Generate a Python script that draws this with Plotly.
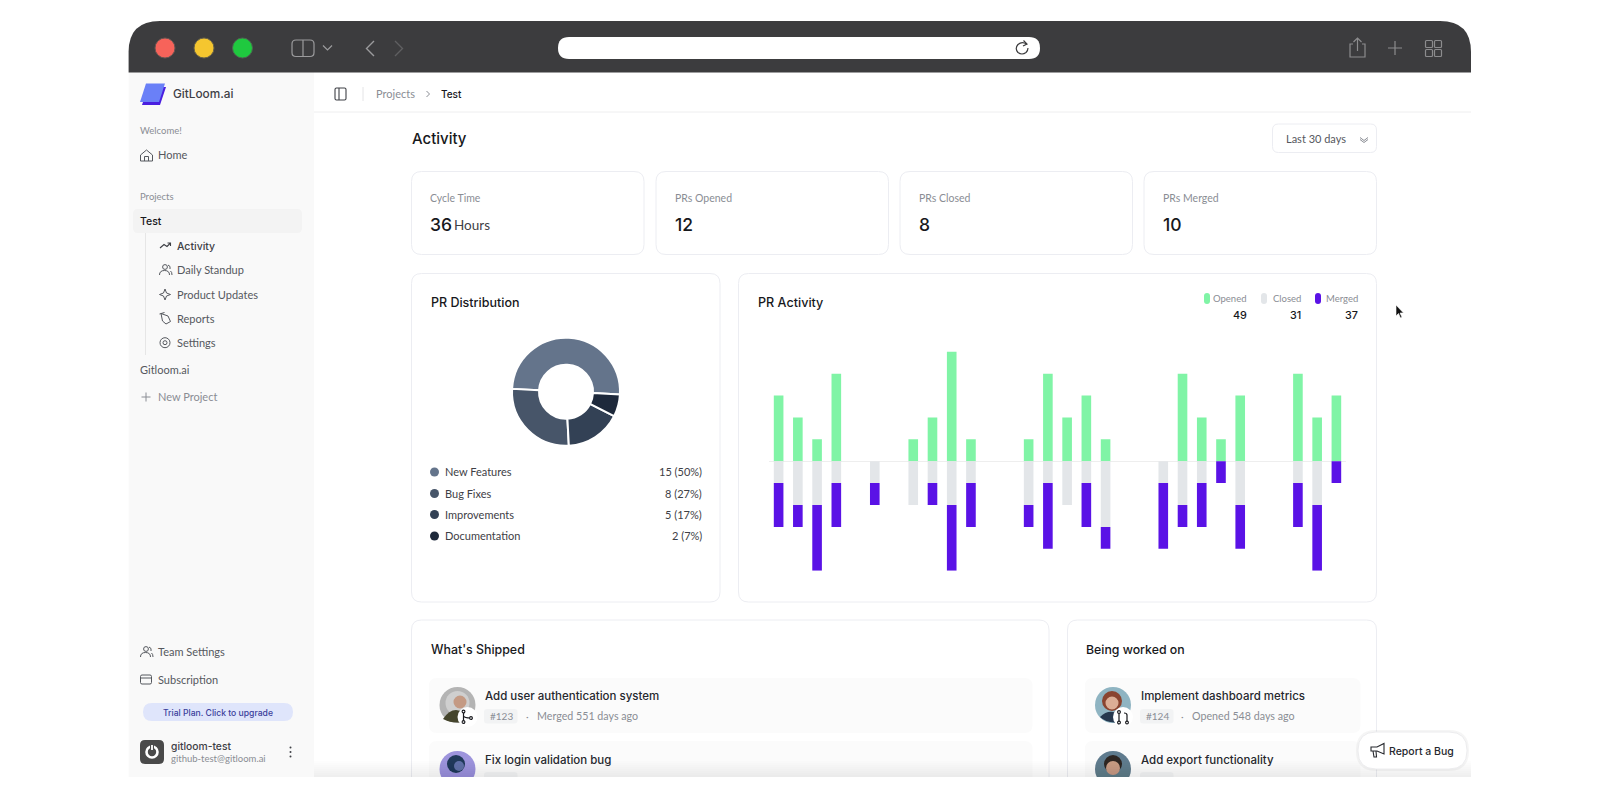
import plotly.graph_objects as go

# --- Data ---
DAYS = [str(d) for d in range(1, 31)]
OPENED = [3, 2, 1, 4, 0, 0, 0, 1, 2, 5, 1, 0, 0, 1, 4, 2, 3, 1, 0, 0, 0, 4, 2, 1, 3, 0, 0, 4, 2, 3]
CLOSED = [1, 2, 2, 1, 0, 1, 0, 2, 1, 2, 1, 0, 0, 2, 1, 2, 1, 3, 0, 0, 1, 2, 1, 0, 2, 0, 0, 1, 2, 0]
MERGED = [2, 1, 3, 2, 0, 1, 0, 0, 1, 3, 2, 0, 0, 1, 3, 0, 2, 1, 0, 0, 3, 1, 2, 1, 2, 0, 0, 2, 3, 1]

PR_TYPES = ["New Features", "Bug Fixes", "Improvements", "Documentation"]
PR_COUNTS = [15, 8, 5, 2]
PR_PCT = ["50%", "27%", "17%", "7%"]

STAT_LABELS = ["Cycle Time", "PRs Opened", "PRs Closed", "PRs Merged"]
STAT_VALUES = ["36", "12", "8", "10"]

# --- Styling ---
FONT = "Lato"
FONT_MEDIUM = "Inter"  # Lato has no 500 weight installed
DARK = "#17181c"
GREY = "#8a8d94"
MID = "#55585e"
BORDER = "#ecedf2"
SLATES = ["#64748b", "#475569", "#334155", "#1e293b"]
GREEN = "#80f4a6"
LIGHT = "#e3e6e9"
PURPLE = "#5a12e6"

shapes = []
notes = []


def rrect_path(x0, y0, x1, y1, r):
    return (f"M{x0+r},{y0} L{x1-r},{y0} Q{x1},{y0} {x1},{y0+r} L{x1},{y1-r} Q{x1},{y1} {x1-r},{y1} "
            f"L{x0+r},{y1} Q{x0},{y1} {x0},{y1-r} L{x0},{y0+r} Q{x0},{y0} {x0+r},{y0} Z")


def box(x0, y0, x1, y1, r=0, fill="white", line=None, width=1, opacity=1):
    shapes.append(dict(type="path", layer="below", path=rrect_path(x0, y0, x1, y1, r), fillcolor=fill, opacity=opacity,
                       line=dict(color=line or "rgba(0,0,0,0)", width=width if line else 0)))


def dot(cx, cy, r, fill, line=None, width=1):
    shapes.append(dict(type="circle", layer="below", x0=cx-r, x1=cx+r, y0=cy-r, y1=cy+r, fillcolor=fill,
                       line=dict(color=line or "rgba(0,0,0,0)", width=width if line else 0)))


def stroke(path, color, width=1.2, fill="rgba(0,0,0,0)"):
    shapes.append(dict(type="path", layer="below", path=path, fillcolor=fill, line=dict(color=color, width=width)))


def label(x, y, text, size=11, color=MID, anchor="left", weight=400):
    family = FONT_MEDIUM if weight >= 500 else FONT
    shift = 0 if weight >= 500 else -0.3
    notes.append(dict(x=x, y=y + shift, text=text, xanchor=anchor, yanchor="middle", showarrow=False,
                      xref="x", yref="y", borderpad=0,
                      font=dict(family=family, size=size, color=color, weight=weight)))


# --- Browser window ---
box(128.6, 72, 1471, 777, 0, "white")
box(128.6, 72, 314, 777, 0, "#f9f9f9")
stroke("M128.6,72.5 L128.6,52 Q128.6,21 160,21 L1440,21 Q1471,21 1471,52 L1471,72.5 Z", "#3c3c3e", 0, "#3c3c3e")
dot(165, 48, 10, "#f7635a", "#6a5552", 1)
dot(204, 48, 10, "#f5c62f", "#6a6348", 1)
dot(242.5, 48, 10, "#1fc93f", "#4c6650", 1)
box(292, 40, 314, 56.5, 4, "rgba(0,0,0,0)", "#9b9b9d", 1.2)
stroke("M303,40 L303,56.5", "#9b9b9d", 1.2)
stroke("M323,45.5 L327.5,50 L332,45.5", "#9b9b9d", 1.2)
stroke("M374,41 L366.5,48.5 L374,56", "#9b9b9d", 1.4)
stroke("M395,41 L402.5,48.5 L395,56", "#5f5f61", 1.4)
box(558, 37, 1040, 59, 11, "white")
stroke("M1026.5,44 Q1022,41 1018,44.5 Q1014.5,48.5 1018,52.5 Q1022,55.5 1026,52.5 Q1028,50.5 1028,48", "#3c3c3e", 1.2)
stroke("M1023.5,40.5 L1027,44 L1023,46", "#3c3c3e", 1.2)
stroke("M1353,44 L1350,44 L1350,57 L1365,57 L1365,44 L1362,44", "#8c8c8e", 1.2)
stroke("M1357.5,51 L1357.5,38 M1353.5,42 L1357.5,38 L1361.5,42", "#8c8c8e", 1.2)
stroke("M1395,41 L1395,55 M1388,48 L1402,48", "#8c8c8e", 1.2)
for bx, by in [(1425.5, 40.5), (1434.5, 40.5), (1425.5, 49.5), (1434.5, 49.5)]:
    box(bx, by, bx+7, by+7, 1, "rgba(0,0,0,0)", "#8c8c8e", 1.2)

# --- Sidebar ---
stroke("M148,87 L166,87 L160,105 L142,105 Z", "#4a1fe0", 0, "#4a1fe0")
stroke("M146,83.5 L165,83.5 L159,102 L140,102 Z", "#6a80f7", 0, "#6a80f7")
label(172, 94, "GitLoom.ai", 11.8, "#3e4046", weight=500)
label(139, 130.5, "Welcome!", 9.5, GREY)
stroke("M140.5,155 L146.5,150 L152.5,155 L152.5,161 L140.5,161 Z M144.5,161 L144.5,156.5 L148.5,156.5 L148.5,161", MID, 1)
label(157, 155, "Home", 11, MID)
label(139, 197, "Projects", 9.5, GREY)
box(133, 209, 302, 233, 5, "#f3f3f3")
label(139, 221.5, "Test", 10.5, DARK, weight=500)
stroke("M145.5,233 L145.5,355", "#e6e6e6", 1)
SIDE_ITEMS = ["Activity", "Daily Standup", "Product Updates", "Reports", "Settings"]
SIDE_Y = [246, 270, 294.3, 318.6, 342.7]
for name, y in zip(SIDE_ITEMS, SIDE_Y):
    if name == "Activity":
        label(176, y, name, 10.5, "#3e4046", weight=500)
    else:
        label(176, y, name, 11, MID)
stroke("M160,248 L164,244.5 L167,246.5 L170.5,243 M167.5,243 L170.5,243 L170.5,246", "#3e4046", 1.1)
dot(165, 267, 2.4, "rgba(0,0,0,0)", MID, 1)
stroke("M159.5,275 Q159.5,270.5 164.5,270.5 Q169.5,270.5 169.5,275 M168,265 Q171,266 170,269 M170.5,271 Q172,272 172,275", MID, 1)
stroke("M165,289 L166.5,293 L170.5,294.5 L166.5,296 L165,300 L163.5,296 L159.5,294.5 L163.5,293 Z", MID, 1)
stroke("M161,313.5 L168,316 L170.5,321.5 L166,324 L162.5,321 Z M159.5,314 L164.5,312.5", MID, 1)
dot(165, 342.7, 2, "rgba(0,0,0,0)", MID, 1)
dot(165, 342.7, 5, "rgba(0,0,0,0)", MID, 1)
label(139, 370, "Gitloom.ai", 11, MID)
stroke("M146,392.5 L146,401.5 M141.5,397 L150.5,397", GREY, 1)
label(157, 397, "New Project", 11, GREY)
dot(146, 649, 2.4, "rgba(0,0,0,0)", MID, 1)
stroke("M140.5,657 Q140.5,652.5 145.5,652.5 Q150.5,652.5 150.5,657 M149,647 Q152,648 151,651 M151.5,653 Q153,654 153,657", MID, 1)
label(156.5, 652, "Team Settings", 11, MID)
box(140.5, 675, 151.5, 684, 1.5, "rgba(0,0,0,0)", MID, 1)
stroke("M140.5,678 L151.5,678", MID, 1)
label(156.5, 680, "Subscription", 11, MID)
box(143, 703, 293, 721, 9, "#dfe5fb")
label(218, 712.5, "Trial Plan. Click to upgrade", 8.6, "#3b3f9b", "center", 500)
box(140, 740, 164, 764, 5, "#4a4a4a")
dot(152, 752, 5.5, "rgba(0,0,0,0)", "white", 2.6)
stroke("M152,744.5 L152,750", "#4a4a4a", 4)
stroke("M152,745 L152,750", "white", 1.8)
label(169.5, 746, "gitloom-test", 10.3, "#3e4046", weight=500)
label(169.5, 759, "github-test@gitloom.ai", 9.5, GREY)
for dy in [747.5, 752, 756.5]:
    dot(290.5, dy, 1, "#3e4046")

# --- Header and page title ---
stroke("M314,112 L1471,112", "#eeeeef", 1)
box(335, 88, 346, 100, 1.5, "rgba(0,0,0,0)", "#3e4046", 1.1)
stroke("M339,88 L339,100", "#3e4046", 1.1)
stroke("M363,87 L363,101", "#e4e4e6", 1)
label(375, 94, "Projects", 11, GREY)
stroke("M426.5,91 L429.5,94 L426.5,97", GREY, 1)
label(440, 94, "Test", 10, DARK, weight=500)
label(410.5, 138.5, "Activity", 15, DARK, weight=500)
box(1272.5, 124, 1376.5, 152.5, 6, "white", BORDER)
label(1284.5, 139, "Last 30 days", 11, MID)
stroke("M1360,137.5 L1364,140.5 L1368,137.5 M1360,139.5 L1364,142.5 L1368,139.5", GREY, 1)

# --- Stat cards ---
STAT_X = [411.5, 656, 900, 1144]
for x, name, val in zip(STAT_X, STAT_LABELS, STAT_VALUES):
    box(x, 171.5, x+232.5, 254.5, 10, "white", BORDER)
    label(x+17.5, 198, name, 10.5, GREY)
    label(x+17.5, 224, val, 17.5, DARK, weight=500)
label(453, 225.5, "Hours", 13.5, "#3e4046")

# --- PR Distribution card ---
box(411.5, 273.5, 720, 602, 10, "white", BORDER)
label(429.5, 302.5, "PR Distribution", 12.5, DARK, weight=500)
LEGEND_Y = [472, 493.5, 514.5, 536]
for name, count, pct, color, y in zip(PR_TYPES, PR_COUNTS, PR_PCT, SLATES, LEGEND_Y):
    dot(434.5, y, 4.5, color)
    label(444, y, name, 11, "#3e4046")
    label(702.5, y, f"{count} ({pct})", 11, "#3e4046", "right")

# --- PR Activity card ---
box(738.5, 273.5, 1376.5, 602, 10, "white", BORDER)
label(757, 302.5, "PR Activity", 12.6, DARK, weight=500)
LEG_NAMES = ["Opened", "Closed", "Merged"]
LEG_COLORS = [GREEN, LIGHT, PURPLE]
LEG_DOT_X = [1207, 1264, 1318]
LEG_RIGHT = [1248, 1302, 1359]
LEG_TOTALS = [sum(OPENED), sum(CLOSED), sum(MERGED)]
for name, color, dx, right, total in zip(LEG_NAMES, LEG_COLORS, LEG_DOT_X, LEG_RIGHT, LEG_TOTALS):
    box(dx-3, 293, dx+3, 304, 3, color)
    label(right, 298.5, name, 9.5, GREY, "right")
    label(right, 315, str(total), 10.8, DARK, "right", 500)

# --- Lower cards ---
box(411.5, 620, 1049, 800, 10, "white", BORDER)
box(1067.5, 620, 1376.5, 800, 10, "white", BORDER)
label(429.5, 649, "What's Shipped", 12.4, DARK, weight=500)
label(1085, 649, "Being worked on", 12.3, DARK, weight=500)
box(429, 678, 1032.5, 733, 8, "#fbfbfb")
box(429, 741, 1032.5, 800, 8, "#fbfbfb")
box(1085, 678, 1360.5, 733, 8, "#fbfbfb")
box(1085, 741, 1360.5, 800, 8, "#fbfbfb")

# avatars
dot(457.5, 705, 18, "#b4b4b4")
dot(457.5, 703, 12, "#cfcfcf")
dot(460, 702, 6.5, "#c49a84")
stroke("M443,719 Q449,710 456,710 L466,712 L464,722 Q452,724 443,719 Z", "#45452c", 0, "#45452c")
dot(457.5, 769, 18, "#9d94dc")
dot(456, 764, 9, "#20395a")
dot(459, 766, 5, "#5f6fa8")
dot(1113, 705, 18, "#8fb4c2")
dot(1112, 701, 10, "#8a4430")
dot(1112, 703, 6.5, "#dcae96")
stroke("M1100,717 Q1106,711 1113,712 L1122,714 L1120,722 Q1107,724 1100,717 Z", "#26384e", 0, "#26384e")
dot(1113, 769, 18, "#5f7b8e")
dot(1113, 764, 9, "#2e2622")
dot(1113, 768, 7, "#c79c84")

# badges on the avatars
dot(467.5, 717, 10, "white")
stroke("M463.5,712.5 L463.5,722 M463.5,716 Q464.5,718 470.5,718", DARK, 1.2)
dot(463.5, 711.5, 1.4, "white", DARK, 1.1)
dot(463.5, 722, 1.4, "white", DARK, 1.1)
dot(471, 718, 1.4, "white", DARK, 1.1)
dot(1123, 717, 10, "white")
stroke("M1119,713 L1119,721.5 M1127,721.5 L1127,715 Q1127,713 1124,713", DARK, 1.2)
dot(1119, 712, 1.4, "white", DARK, 1.1)
dot(1119, 722.5, 1.4, "white", DARK, 1.1)
dot(1127, 722.5, 1.4, "white", DARK, 1.1)

label(483.5, 696, "Add user authentication system", 11.5, "#26282e", weight=500)
box(484, 709, 517.5, 723.5, 3, "#f2f3f4")
label(501, 716, "#123", 10, GREY, "center")
label(527, 716, "·", 10, GREY, "center")
label(535.5, 716, "Merged 551 days ago", 10.7, GREY)
label(483.5, 759.5, "Fix login validation bug", 11.5, "#26282e", weight=500)
box(484, 772, 517.5, 790, 3, "#f2f3f4")

label(1139.5, 696, "Implement dashboard metrics", 11.5, "#26282e", weight=500)
box(1140, 709, 1173.5, 723.5, 3, "#f2f3f4")
label(1157, 716, "#124", 10, GREY, "center")
label(1182, 716, "·", 10, GREY, "center")
label(1190.5, 716, "Opened 548 days ago", 10.7, GREY)
label(1139.5, 759.5, "Add export functionality", 11.5, "#26282e", weight=500)
box(1140, 772, 1173.5, 790, 3, "#f2f3f4")

# fade at the bottom of the window, then cut everything off at its edge
for i in range(8):
    box(314, 761 + i*2, 1471, 777, 0, "#000000", opacity=0.008)
box(0, 777, 1600, 800, 0, "white")

# floating button and the mouse pointer
box(1356, 730, 1469, 771, 20, "#000000", opacity=0.04)
box(1358, 732, 1467, 769, 18, "white", "#ececee")
stroke("M1371,747 L1377,747 L1384,743.5 L1384,754 L1377,751 L1371,751 Z M1373,751 L1374,757 L1376.5,757 L1376,751", "#26282e", 1.1)
label(1387.5, 751, "Report a Bug", 10.5, "#26282e", weight=500)
stroke("M1396,305 L1396,316 L1398.5,313.5 L1400.5,318 L1402,317.2 L1400,313 L1403.5,313 Z", "white", 0.6, "#111111")

# --- Figure ---
fig = go.Figure()

fig.add_trace(go.Bar(x=DAYS, y=OPENED, name="Opened", marker_color=GREEN, marker_line_width=0,
                     xaxis="x2", yaxis="y2"))
fig.add_trace(go.Bar(x=DAYS, y=[-v for v in CLOSED], name="Closed", marker_color=LIGHT, marker_line_width=0,
                     xaxis="x2", yaxis="y2"))
fig.add_trace(go.Bar(x=DAYS, y=[-v for v in MERGED], name="Merged", marker_color=PURPLE, marker_line_width=0,
                     xaxis="x2", yaxis="y2"))

# with counterclockwise plotly keeps the first slice where clockwise would put it
fig.add_trace(go.Pie(labels=PR_TYPES, values=PR_COUNTS, hole=0.5, sort=False, direction="counterclockwise",
                     rotation=-87, textinfo="none", marker=dict(colors=SLATES, line=dict(color="white", width=2)),
                     domain=dict(x=[512/1600, 620/1600], y=[1-445.7/800, 1-337.7/800])))

fig.update_layout(
    width=1600,
    height=800,
    margin=dict(l=0, r=0, t=0, b=0),
    paper_bgcolor="white",
    plot_bgcolor="rgba(0,0,0,0)",
    showlegend=False,
    barmode="relative",
    bargap=0.5,
    shapes=shapes,
    annotations=notes,
    # page coordinates for the app frame, in pixels
    xaxis=dict(range=[0, 1600], domain=[0, 1], visible=False, fixedrange=True),
    yaxis=dict(range=[800, 0], domain=[0, 1], visible=False, fixedrange=True),
    # PR Activity bars
    xaxis2=dict(domain=[769/1600, 1346/1600], range=[-0.5, 29.5], type="category", anchor="y2", visible=False),
    yaxis2=dict(domain=[1-570.7/800, 1-340.8/800], range=[-5, 5.5], anchor="x2", showgrid=False, showticklabels=False,
                ticks="", showline=False, zeroline=True, zerolinecolor="#eeeeee", zerolinewidth=1),
)

fig.write_html("out.html", config=dict(displayModeBar=False), post_script="document.body.style.margin='0';")
